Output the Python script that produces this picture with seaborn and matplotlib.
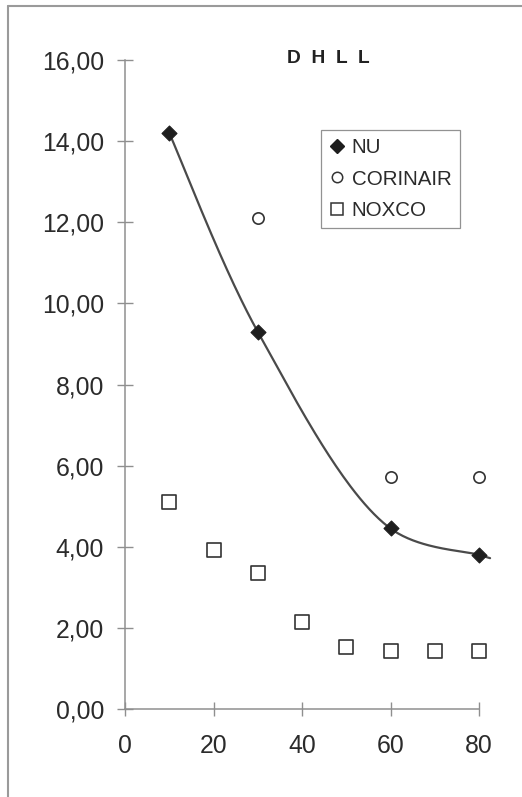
import numpy as np
import pandas as pd
import matplotlib
matplotlib.use("Agg")
import matplotlib.pyplot as plt
import seaborn as sns
from matplotlib.lines import Line2D

# Measured series
nu_x = [10, 30, 60, 80]
nu_y = [14.2, 9.3, 4.45, 3.8]
cor_x = [30, 60, 80]
cor_y = [12.1, 5.72, 5.72]
nox_x = [10, 20, 30, 40, 50, 60, 70, 80]
nox_y = [5.1, 3.92, 3.35, 2.15, 1.52, 1.42, 1.42, 1.42]

x_ticks = [0, 20, 40, 60, 80]
y_ticks = [0, 2, 4, 6, 8, 10, 12, 14, 16]
y_tick_labels = ["0,00", "2,00", "4,00", "6,00", "8,00", "10,00", "12,00", "14,00", "16,00"]
title = "D  H  L  L"

sns.set_theme(style="white")
plt.rcParams["font.family"] = ["Liberation Sans", "DejaVu Sans"]

W, H = 522, 797
fig = plt.figure(figsize=(W / 100, H / 100), dpi=100)
fig.patch.set_facecolor("white")

# axes placed in pixel terms
x0, x1 = 125, 479
y0, y1 = 709, 60
ax = fig.add_axes([x0 / W, 1 - y0 / H, (x1 - x0) / W, (y0 - y1) / H])
ax.set_facecolor("white")
XMAX, YMAX = 80, 16


def smooth_curve(xs, ys, sx, sy, n=60, tail=2.5):
    """Centripetal Catmull-Rom curve through the points, as cubic Bezier
    segments built in screen units."""
    P = np.column_stack([np.asarray(xs, float) * sx, np.asarray(ys, float) * sy])
    k = len(P)
    dt = np.sqrt(np.linalg.norm(np.diff(P, axis=0), axis=1))
    outc = np.zeros_like(P)
    inc = np.zeros_like(P)
    outc[0] = P[0] + (P[1] - P[0]) / 6
    inc[-1] = P[-1] - (P[-1] - P[-2]) / 6
    for i in range(1, k - 1):
        m = (P[i] - P[i - 1]) / dt[i - 1] \
            - (P[i + 1] - P[i - 1]) / (dt[i - 1] + dt[i]) \
            + (P[i + 1] - P[i]) / dt[i]
        outc[i] = P[i] + m * dt[i] / 3
        inc[i] = P[i] - m * dt[i - 1] / 3
    t = np.linspace(0, 1, n)[:, None]
    pts = []
    for i in range(k - 1):
        b0, b1, b2, b3 = P[i], outc[i], inc[i + 1], P[i + 1]
        seg = ((1 - t) ** 3) * b0 + 3 * ((1 - t) ** 2) * t * b1 \
            + 3 * (1 - t) * t ** 2 * b2 + t ** 3 * b3
        pts.append(seg if i == 0 else seg[1:])
    curve = np.vstack(pts)
    # short run-out along the end tangent
    d = P[-1] - inc[-1]
    if tail > 0 and d[0] > 0:
        curve = np.vstack([curve, P[-1] + d * (tail * sx / d[0])])
    return curve[:, 0] / sx, curve[:, 1] / sy


axis_col = "#8f8f8f"
text_col = "#2b2b2b"

# smoothed NU line, built in pixel units of the axes
sx = (x1 - x0) / XMAX
sy = (y0 - y1) / YMAX
cx, cy = smooth_curve(nu_x, nu_y, sx, sy)
trend = pd.DataFrame({"x": cx, "y": cy})
sns.lineplot(data=trend, x="x", y="y", ax=ax, color="#4a4a4a", linewidth=1.6,
             sort=False, estimator=None, clip_on=False, zorder=2, legend=False)

df_nu = pd.DataFrame({"x": nu_x, "y": nu_y})
df_cor = pd.DataFrame({"x": cor_x, "y": cor_y})
df_nox = pd.DataFrame({"x": nox_x, "y": nox_y})

sns.scatterplot(data=df_nu, x="x", y="y", ax=ax, marker="D", s=58,
                color="#1e1e1e", edgecolor="#1e1e1e", linewidth=0.8,
                clip_on=False, zorder=3, legend=False)
sns.scatterplot(data=df_cor, x="x", y="y", ax=ax, marker="o", s=66,
                facecolor="white", edgecolor="#333333", linewidth=1.2,
                clip_on=False, zorder=3, legend=False)
sns.scatterplot(data=df_nox, x="x", y="y", ax=ax, marker="s", s=88,
                facecolor="white", edgecolor="#333333", linewidth=1.2,
                clip_on=False, zorder=3, legend=False)

ax.set_xlim(0, XMAX)
ax.set_ylim(0, YMAX)
ax.set_xticks(x_ticks)
ax.set_xticklabels([str(v) for v in x_ticks])
ax.set_yticks(y_ticks)
ax.set_yticklabels(y_tick_labels)
ax.set_xlabel("")
ax.set_ylabel("")

for side in ["top", "right"]:
    ax.spines[side].set_visible(False)
for side in ["left", "bottom"]:
    ax.spines[side].set_color(axis_col)
    ax.spines[side].set_linewidth(1.1)

ax.tick_params(axis="y", direction="inout", length=11, width=1.0, color=axis_col,
               labelsize=17.8, labelcolor=text_col, pad=9.5, left=True)
ax.tick_params(axis="x", direction="inout", length=9.5, width=1.0, color=axis_col,
               labelsize=17.8, labelcolor=text_col, pad=13, bottom=True)

# legend
handles = [
    Line2D([], [], linestyle="none", marker="D", markersize=7,
           markerfacecolor="#1e1e1e", markeredgecolor="#1e1e1e"),
    Line2D([], [], linestyle="none", marker="o", markersize=7.5,
           markerfacecolor="white", markeredgecolor="#333333", markeredgewidth=1.1),
    Line2D([], [], linestyle="none", marker="s", markersize=8.5,
           markerfacecolor="white", markeredgecolor="#333333", markeredgewidth=1.1),
]
leg = ax.legend(handles, ["NU", "CORINAIR", "NOXCO"],
                loc="upper left",
                bbox_to_anchor=((321 - x0) / (x1 - x0), (y0 - 130) / (y0 - y1)),
                borderaxespad=0, frameon=True, fancybox=False, shadow=False,
                fontsize=14.8, handlelength=0.8, handletextpad=0.3,
                borderpad=0.4, labelspacing=0.6)
leg.get_frame().set_edgecolor("#777777")
leg.get_frame().set_linewidth(0.9)
for t in leg.get_texts():
    t.set_color(text_col)

fig.text(328 / W, 1 - 63 / H, title, ha="center", va="baseline",
         fontsize=13.8, fontweight="bold", color="#222222")

# outer frame lines (left and top)
fig.add_artist(Line2D([8 / W, 8 / W], [0, 1 - 6 / H], color="#9a9a9a",
                      linewidth=1.5, transform=fig.transFigure))
fig.add_artist(Line2D([8 / W, 1], [1 - 6 / H, 1 - 6 / H], color="#9a9a9a",
                      linewidth=1.5, transform=fig.transFigure))

fig.savefig("out.png", dpi=100, facecolor="white")
